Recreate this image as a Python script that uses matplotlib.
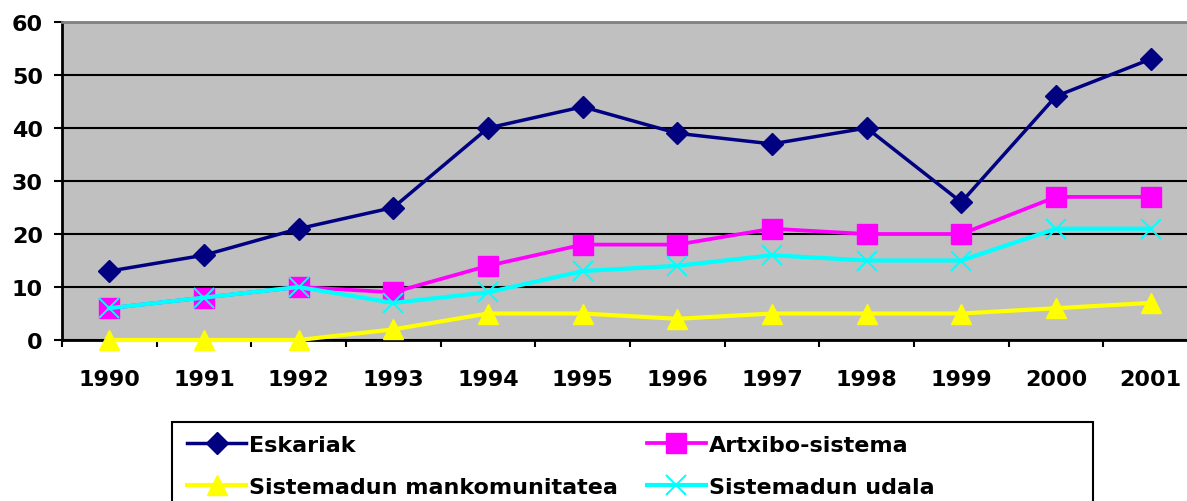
import matplotlib
matplotlib.use("Agg")
import matplotlib.pyplot as plt
from matplotlib.patches import Rectangle
import numpy as np

years = ["1990", "1991", "1992", "1993", "1994", "1995", "1996", "1997", "1998", "1999", "2000", "2001"]
eskariak = [13, 16, 21, 25, 40, 44, 39, 37, 40, 26, 46, 53]
artxibo = [6, 8, 10, 9, 14, 18, 18, 21, 20, 20, 27, 27]
mankomunitatea = [0, 0, 0, 2, 5, 5, 4, 5, 5, 5, 6, 7]
udala = [6, 8, 10, 7, 9, 13, 14, 16, 15, 15, 21, 21]
y_ticks = [0, 10, 20, 30, 40, 50, 60]

W, H = 1187, 502
fig = plt.figure(figsize=(W / 100, H / 100), dpi=100)
plt.rcParams['font.family'] = ['DejaVu Sans']

def fx(px):
    return px / W

def fy(py):
    return 1 - py / H

ax = fig.add_axes([fx(62), fy(341), fx(1198) - fx(62), fy(23) - fy(341)])
ax.set_facecolor("#C0C0C0")

x = np.arange(len(years))
l1, = ax.plot(x, eskariak, color="#000080", lw=2.5, marker="D", ms=11,
              mec="#000080", label="Eskariak", zorder=3, clip_on=False)
l2, = ax.plot(x, artxibo, color="#FF00FF", lw=2.7, marker="s", ms=14,
              mec="#FF00FF", label="Artxibo-sistema", zorder=3, clip_on=False)
l3, = ax.plot(x, mankomunitatea, color="#FFFF00", lw=3, marker="^", ms=15,
              mec="#FFFF00", label="Sistemadun mankomunitatea", zorder=3, clip_on=False)
l4, = ax.plot(x, udala, color="#00FFFF", lw=3, marker="x", ms=15, mew=1.4,
              mec="#00FFFF", label="Sistemadun udala", zorder=3, clip_on=False)

ax.set_xlim(-0.5, len(years) - 0.5)
ax.set_ylim(0, 60)
ax.set_yticks(y_ticks)
ax.set_yticklabels([str(v) for v in y_ticks], fontsize=16, fontweight="bold")
ax.set_xticks(x)
ax.set_xticklabels(years, fontsize=16, fontweight="bold")
ax.set_xticks(np.arange(-0.5, len(years), 1.0), minor=True)
ax.tick_params(axis="x", which="major", length=0, pad=21)
ax.tick_params(axis="x", which="minor", length=5, width=1.5, direction="out", color="black")
ax.tick_params(axis="y", which="major", length=5.8, width=1.5, direction="out", pad=8, color="black")
ax.yaxis.grid(True, color="black", lw=1.5)
ax.set_axisbelow(True)
for s in ["left", "bottom"]:
    ax.spines[s].set_color("black")
    ax.spines[s].set_linewidth(2)
ax.spines["top"].set_color("#808080")
ax.spines["top"].set_linewidth(2)
ax.spines["right"].set_visible(False)

# legend frame
fig.patches.append(Rectangle((fx(172), fy(530)), fx(1093) - fx(172), fy(423) - fy(530),
                             transform=fig.transFigure, fill=False, edgecolor="black",
                             lw=1.5, zorder=1))

fs = 16
fpx = fs * 100 / 72
leg = fig.legend([l1, l3, l2, l4],
                 ["Eskariak", "Sistemadun mankomunitatea", "Artxibo-sistema", "Sistemadun udala"],
                 ncol=2, loc="upper left", bbox_to_anchor=(fx(187), fy(436)),
                 bbox_transform=fig.transFigure, frameon=False, borderpad=0,
                 borderaxespad=0, handlelength=59 / fpx, handletextpad=3 / fpx,
                 columnspacing=29 / fpx, labelspacing=1.0,
                 prop={"size": fs, "weight": "bold"})

fig.savefig("out.png", dpi=100)
